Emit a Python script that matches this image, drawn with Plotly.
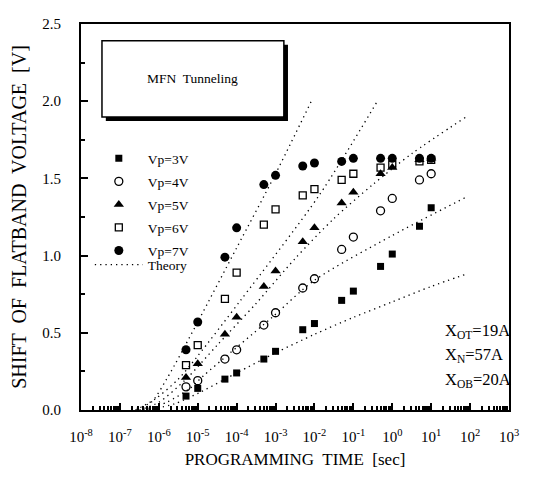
import plotly.graph_objects as go

# ---- data ----
times = [5e-6, 1e-5, 5e-5, 1e-4, 5e-4, 1e-3, 5e-3, 1e-2, 5e-2, 1e-1, 5e-1, 1, 5, 10]
v3 = [0.09, 0.14, 0.20, 0.24, 0.33, 0.38, 0.52, 0.56, 0.71, 0.77, 0.93, 1.01, 1.19, 1.31]
v4 = [0.15, 0.19, 0.33, 0.39, 0.55, 0.63, 0.79, 0.85, 1.04, 1.12, 1.29, 1.37, 1.49, 1.53]
v5 = [0.21, 0.30, 0.49, 0.60, 0.80, 0.90, 1.09, 1.18, 1.34, 1.41, 1.53, 1.57, 1.62, 1.63]
v6 = [0.29, 0.42, 0.72, 0.89, 1.20, 1.30, 1.39, 1.43, 1.49, 1.53, 1.57, 1.59, 1.61, 1.62]
v7 = [0.39, 0.57, 0.99, 1.18, 1.46, 1.52, 1.58, 1.60, 1.61, 1.63, 1.63, 1.63, 1.63, 1.63]
series_names = ["Vp=3V", "Vp=4V", "Vp=5V", "Vp=6V", "Vp=7V"]

# theory curves: (log10 time, voltage) pairs
th3_logt = [-6.3, -5.6, -4.9, -4.0, -3.0, -2.0, -1.0, 0.0, 1.0, 1.9]
th3_v = [0.0, 0.04, 0.12, 0.24, 0.37, 0.49, 0.60, 0.70, 0.80, 0.88]
th4_logt = [-6.4, -5.8, -5.2, -4.86, -3.09, -2.0, 0.0, 1.91]
th4_v = [0.0, 0.05, 0.14, 0.22, 0.60, 0.84, 1.13, 1.38]
th5_logt = [-6.5, -6.0, -5.3, -4.5, -3.5, -2.5, -1.5, -0.5, 0.5, 1.91]
th5_v = [0.0, 0.05, 0.20, 0.42, 0.69, 0.98, 1.24, 1.46, 1.66, 1.90]
th6_logt = [-6.6, -6.1, -5.5, -5.0, -3.9, -1.88, -0.36]
th6_v = [0.0, 0.07, 0.20, 0.35, 0.71, 1.39, 2.01]
th7_logt = [-6.7, -6.2, -5.8, -5.0, -4.0, -3.0, -2.08]
th7_v = [0.0, 0.05, 0.20, 0.57, 1.05, 1.53, 2.00]

x_tickvals = [1e-8, 1e-7, 1e-6, 1e-5, 1e-4, 1e-3, 1e-2, 1e-1, 1e0, 1e1, 1e2, 1e3]
x_ticktext = ["10<sup>-8</sup>", "10<sup>-7</sup>", "10<sup>-6</sup>", "10<sup>-5</sup>",
              "10<sup>-4</sup>", "10<sup>-3</sup>", "10<sup>-2</sup>", "10<sup>-1</sup>",
              "10<sup>0</sup>", "10<sup>1</sup>", "10<sup>2</sup>", "10<sup>3</sup>"]
y_tickvals = [0.0, 0.5, 1.0, 1.5, 2.0, 2.5]

FONT = "Liberation Serif, Times New Roman, serif"
BLACK = "#000000"

fig = go.Figure()

marker_styles = [
    dict(symbol="square", size=7, color=BLACK),
    dict(symbol="circle-open", size=8, color=BLACK, line=dict(width=1.3, color=BLACK)),
    dict(symbol="triangle-up", size=9, color=BLACK),
    dict(symbol="square-open", size=7, color=BLACK, line=dict(width=1.3, color=BLACK)),
    dict(symbol="circle", size=9, color=BLACK),
]
for name, vals, ms in zip(series_names, [v3, v4, v5, v6, v7], marker_styles):
    fig.add_trace(go.Scatter(x=times, y=vals, mode="markers", name=name,
                             marker=ms, legendgroup=name))

theory = [(th3_logt, th3_v), (th4_logt, th4_v), (th5_logt, th5_v),
          (th6_logt, th6_v), (th7_logt, th7_v)]
for i, (lt, vv) in enumerate(theory):
    fig.add_trace(go.Scatter(
        x=[10 ** e for e in lt], y=vv, mode="lines",
        line=dict(color=BLACK, width=1.3, dash="1.3px,4px", shape="spline", smoothing=0.8),
        name="Theory", legendgroup="Theory", legend="legend2", showlegend=(i == 0)))

# shadowed title box
fig.add_shape(type="rect", xref="paper", yref="paper",
              x0=0.058, x1=0.4836, y0=0.7487, y1=0.9464,
              fillcolor=BLACK, line=dict(width=0), layer="above")
fig.add_shape(type="rect", xref="paper", yref="paper",
              x0=0.049, x1=0.474, y0=0.7589, y1=0.9563,
              fillcolor="white", line=dict(width=1.5, color=BLACK), layer="above")
fig.add_annotation(xref="paper", yref="paper", x=0.2615, y=0.8576,
                   xanchor="center", yanchor="middle",
                   text="MFN  Tunneling", showarrow=False,
                   font=dict(family=FONT, size=13.5, color=BLACK))

# parameter annotations
for txt, yy in [("X<sub>OT</sub>=19A", 0.2056), ("X<sub>N</sub>=57A", 0.1424), ("X<sub>OB</sub>=20A", 0.0787)]:
    fig.add_annotation(xref="paper", yref="paper", x=0.846, y=yy,
                       xanchor="left", yanchor="middle",
                       text=txt, showarrow=False,
                       font=dict(family=FONT, size=16.5, color=BLACK))

fig.update_layout(
    width=546, height=478,
    margin=dict(l=73, r=45, t=8, b=76),
    paper_bgcolor="white", plot_bgcolor="white",
    font=dict(family=FONT, color=BLACK, size=14),
    showlegend=True,
    legend=dict(x=0.0206, y=0.6916, xanchor="left", yanchor="top",
                bgcolor="rgba(0,0,0,0)", borderwidth=0,
                font=dict(family=FONT, size=13.5, color=BLACK),
                traceorder="grouped", tracegroupgap=2.5, itemwidth=48),
    legend2=dict(x=0.0206, y=0.4162, xanchor="left", yanchor="top",
                 bgcolor="rgba(0,0,0,0)", borderwidth=0,
                 font=dict(family=FONT, size=13.5, color=BLACK),
                 itemwidth=48),
    xaxis=dict(type="log", range=[-8, 3], tickvals=x_tickvals, ticktext=x_ticktext,
               ticks="inside", ticklen=7, tickwidth=1.5, tickcolor=BLACK,
               minor=dict(ticks="inside", ticklen=4, dtick="D1", tickcolor=BLACK, showgrid=False),
               showline=True, linewidth=2, linecolor=BLACK, mirror=True,
               showgrid=False, zeroline=False, ticklabelstandoff=12,
               tickfont=dict(family=FONT, size=15, color=BLACK),
               title=dict(text="PROGRAMMING  TIME  [sec]", standoff=9,
                          font=dict(family=FONT, size=17, color=BLACK))),
    yaxis=dict(range=[0, 2.5], tickvals=y_tickvals, tickformat=".1f",
               ticks="inside", ticklen=7, tickwidth=1.5, tickcolor=BLACK,
               minor=dict(ticks="inside", ticklen=4, dtick=0.25, tickcolor=BLACK, showgrid=False),
               showline=True, linewidth=2, linecolor=BLACK, mirror=True,
               showgrid=False, zeroline=False, ticklabelstandoff=15,
               tickfont=dict(family=FONT, size=15, color=BLACK),
               title=dict(text="SHIFT  OF  FLATBAND  VOLTAGE  [V]", standoff=10,
                          font=dict(family=FONT, size=20, color=BLACK))),
)

fig.write_html("out.html")
